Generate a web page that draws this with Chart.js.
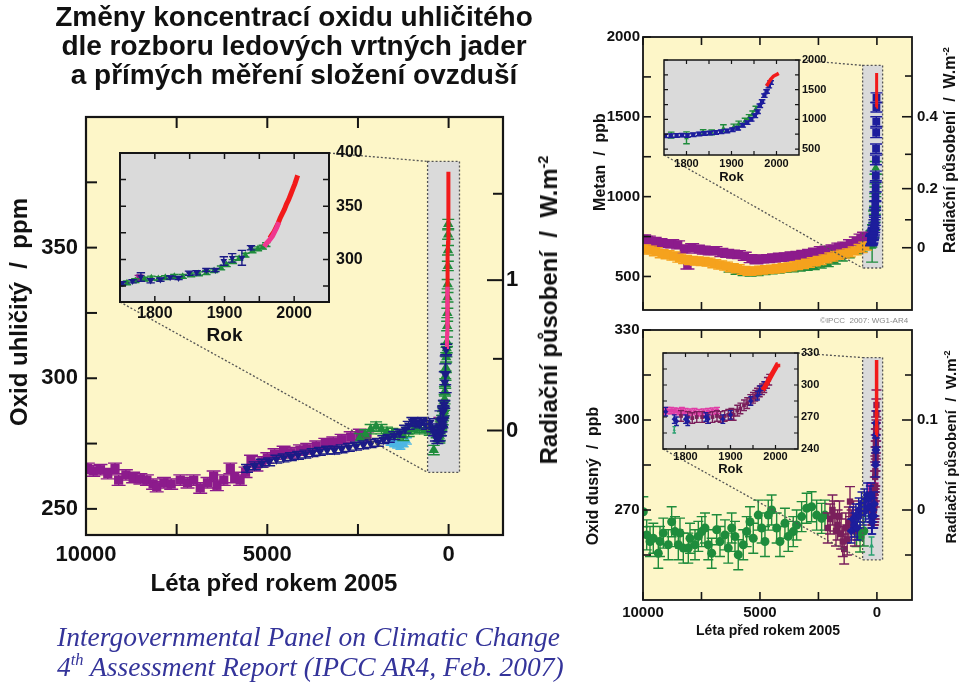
<!DOCTYPE html>
<html><head><meta charset="utf-8">
<script src="https://cdn.jsdelivr.net/npm/chart.js@4.4.1/dist/chart.umd.min.js"></script>
<style>
html,body{margin:0;padding:0;background:#fff;width:960px;height:683px;overflow:hidden;position:relative;}
canvas{position:absolute;left:0;top:0;}
.t{position:absolute;font-family:'Liberation Sans',Arial,Helvetica,sans-serif;font-weight:bold;color:#111;white-space:pre;line-height:1;z-index:20;}
.rot{transform:translate(-50%,-50%) rotate(-90deg);}
.ctr{transform:translate(-50%,-50%);}
sup{font-size:60%;vertical-align:0.65em;line-height:0;}
</style></head><body>
<canvas id="co2Main" width="960" height="683" style="z-index:1"></canvas>
<canvas id="ch4Main" width="960" height="683" style="z-index:2"></canvas>
<canvas id="n2oMain" width="960" height="683" style="z-index:3"></canvas>
<canvas id="co2Inset" width="960" height="683" style="z-index:4"></canvas>
<canvas id="ch4Inset" width="960" height="683" style="z-index:5"></canvas>
<canvas id="n2oInset" width="960" height="683" style="z-index:6"></canvas>

<div class="t" style="left:0;top:2px;width:588px;text-align:center;font-size:28px;line-height:29px;">Změny koncentrací oxidu uhličitého
dle rozboru ledových vrtných jader
a přímých měření složení ovzduší</div>
<div class="t rot" style="left:19px;top:312px;font-size:24px;">Oxid uhličitý  /  ppm</div>
<div class="t ctr" style="left:274px;top:583px;font-size:24px;">Léta před rokem 2005</div>
<div class="t rot" style="left:549px;top:310px;font-size:24px;">Radiační působení  /  W.m<sup>-2</sup></div>
<div class="t rot" style="left:600px;top:162px;font-size:16px;">Metan  /  ppb</div>
<div class="t rot" style="left:950px;top:150px;font-size:16px;">Radiační působení  /  W.m<sup>-2</sup></div>
<div class="t rot" style="left:593px;top:476px;font-size:16px;">Oxid dusný  /  ppb</div>
<div class="t rot" style="left:950px;top:447px;font-size:15px;">Radiační působení  /  W.m<sup>-2</sup></div>
<div class="t ctr" style="left:768px;top:630px;font-size:14px;">Léta před rokem 2005</div>
<div class="t" style="left:820px;top:317px;font-size:8px;font-weight:normal;color:#888;">©IPCC  2007: WG1-AR4</div>
<div class="t" style="left:57px;top:622px;font-family:'Liberation Serif','Times New Roman',serif;font-style:italic;font-weight:normal;font-size:27.5px;line-height:30px;color:#34349a;">Intergovernmental Panel on Climatic Change
4<sup>th</sup> Assessment Report (IPCC AR4, Feb. 2007)</div>

<script>
// ---------------- DATA ----------------
const REF_YEAR = 2005;                         // "years before 2005"
const mainXTicks = [10000, 7500, 5000, 2500, 0];
const mainXLabels = [10000, 5000, 0];
const insetYearTicks = [1800, 1850, 1900, 1950, 2000];
const insetYearLabels = [1800, 1900, 2000];

// CO2 (ppm)
const co2YTicks = [250, 275, 300, 325, 350, 375, 400];
const co2YLabels = [250, 300, 350];
const co2ForcingTicks = [0, 0.5, 1, 1.5];
const co2ForcingLabels = [0, 1];
const co2InsetYTicks = [275, 300, 325, 350, 375, 400];
const co2InsetYLabels = [300, 350, 400];

const co2DomeC_bp  = [9950,9800,9600,9400,9200,9100,8900,8700,8500,8320,8150,8050,7850,7650,7400,7200,7030,6850,6650,6480,6390,6200,6020,5900,5750,5600,5450,5300,5150,5000,4800,4550,4350,4100,3900,3650,3400,3180,2950,2700,2450,2250];
const co2DomeC_ppm = [265.5,264.5,265,263.5,265.5,261,263,262,261.5,261,259.5,258.5,260,259.5,261,260,261,258,260,262.5,259,261,265.5,262,261,264,268.5,266.5,268,269.5,271,272,271.5,272.5,273,274,275,275.5,276.5,277.5,278.5,277.5];
const co2DomeCRecent_year = [1778];
const co2DomeCRecent_ppm  = [283];

const co2Law_bp  = [5560,5350,5150,4950,4750,4550,4350,4150,3950,3750,3550,3350,3150,2950,2750,2550,2350,2150,1950,1800,1650,1500,1350,1200,1100,1000,900,800,700,600,520,450,400,350,310,280];
const co2Law_ppm = [265.5,266.5,267.5,268,269,269.5,270,270.5,271,271.5,272,272.5,272.5,273,273.5,274,274.5,275,275.5,276.5,277,278,279,280.5,282,283.5,283,282.5,283.5,282,283,281,279.5,277.5,276.5,277.5];
const co2LawRecent_year = [1753,1768,1780,1794,1808,1822,1834,1849,1860,1874,1887,1899,1911,1925,1938];
const co2LawRecent_ppm  = [277.5,279.5,283.5,280,281,283,282.5,287,287.5,290,290,298.5,301.5,301.5,311];
const co2LawRecent_err  = [1.5,1.5,4,2,1.5,1.5,1.5,2,2,1.5,1.5,4,4,7,2];

const co2Green_bp  = [2450,2300,2150,2000,1850,1700,1550,1400,1250,1100,950,800,650,520,410,330];
const co2Green_ppm = [277,278.5,280.5,281.5,280.5,279.5,279,278.5,278,279.5,280.5,281,280.5,280,272.5,279];
const co2GreenRecent_year = [1750,1760,1772,1785,1795,1805,1815,1828,1840,1852,1863,1874,1885,1895,1903,1912,1921,1930,1940,1948,1955,1960];
const co2GreenRecent_ppm  = [277,278,280,281.5,282.5,282,283,284,284,285.5,286.5,287.5,289.5,292,295,298,301,304,308,310,311.5,314];
const co2GreenFirn_year = [1965,1970,1975,1979,1984,1988,1992,1995];
const co2GreenFirn_ppm  = [320,325,331,336,343,349,355,359];

const co2Cyan_bp  = [1600,1500,1420,1330,1240,1150];
const co2Cyan_ppm = [275.5,275,274.5,274,275,276];

const co2Pink_year = [1957,1960,1963,1966,1969,1972,1975,1978];
const co2Pink_ppm  = [312,315,317,319.5,322,326,330,335];
const co2Red_year  = [1965,1968,1971,1974,1977,1980,1983,1986,1989,1992,1995,1998,2001,2004,2005];
const co2Red_ppm   = [320,323,326,330,334,339,343,347,352,356,361,366,371,377,379];

// CH4 (ppb)
const ch4YTicks = [500, 750, 1000, 1250, 1500, 1750, 2000];
const ch4YLabels = [500, 1000, 1500, 2000];
const ch4ForcingTicks = [0, 0.1, 0.2, 0.3, 0.4, 0.5];
const ch4ForcingLabels = [0, 0.2, 0.4];
const ch4InsetYTicks = [500, 750, 1000, 1250, 1500, 1750, 2000];
const ch4InsetYLabels = [500, 1000, 1500, 2000];

const ch4Purple_bp  = [9950,9750,9500,9250,9000,8750,8500,8250,8100,7900,7650,7400,7150,6900,6650,6400,6150,5900,5650,5400,5150,4900,4650,4400,4150,3900,3650,3400,3150,2900,2650,2400,2150,1900,1650,1400,1150,900,700,550];
const ch4Purple_ppb = [735,728,720,712,706,705,698,672,572,680,671,665,660,662,650,645,640,637,627,612,605,610,612,616,620,622,628,632,638,645,652,662,665,672,684,690,705,722,740,752];
const ch4Orange_bp  = [9950,9700,9450,9200,8950,8700,8450,8200,7950,7700,7450,7200,6950,6700,6450,6200,5950,5700,5450,5200,4950,4700,4450,4200,3950,3700,3450,3200,2950,2700,2450,2200,1950,1700,1450,1200,950,700,500];
const ch4Orange_ppb = [672,665,655,642,636,628,615,606,600,597,594,590,580,572,565,555,548,538,532,535,540,543,546,550,556,560,568,575,583,592,600,610,622,632,640,648,660,675,690];
const ch4Green_bp   = [6300,6000,5700,5400,5100,4800,4500,4200,3900,3600,3300,3000,2700,2400,2100,1800,1500,1200,900,650,450];
const ch4Green_ppb  = [545,532,524,520,524,530,535,540,545,548,552,556,562,570,580,596,615,635,660,672,690];
const ch4GreenRecent_year = [1766,1800,1837,1856,1882,1905,1916,1930,1939,1947,1954];
const ch4GreenRecent_ppb  = [735,690,785,780,850,880,930,980,1040,1100,1180];
const ch4GreenRecent_err  = [50,100,40,40,60,40,40,40,40,40,40];
const ch4Blue_year = [1752,1765,1778,1790,1802,1815,1828,1840,1852,1865,1877,1890,1902,1914,1925,1935,1944,1952,1958,1963,1968,1973,1978,1983,1987];
const ch4Blue_ppb  = [722,725,730,735,728,740,755,762,770,778,790,805,825,850,900,945,1000,1060,1130,1230,1300,1400,1470,1560,1620];
const ch4Red_year  = [1978,1981,1984,1987,1990,1993,1996,1999,2002,2005];
const ch4Red_ppb   = [1560,1600,1640,1675,1700,1725,1740,1750,1762,1775];

// N2O (ppb)
const n2oYTicks = [255, 270, 285, 300, 315, 330];
const n2oYLabels = [270, 300, 330];
const n2oForcingTicks = [-0.05, 0, 0.05, 0.1, 0.15];
const n2oForcingLabels = [0, 0.1];
const n2oInsetYTicks = [240, 255, 270, 285, 300, 315, 330];
const n2oInsetYLabels = [240, 270, 300, 330];

const n2oGreen_bp  = [9987,9842,9701,9560,9346,9274,9132,8919,8775,8632,8490,8419,8277,8063,7991,7777,7635,7491,7350,7209,7064,6850,6709,6495,6355,6209,6068,5928,5714,5568,5427,5286,5073,4927,4786,4645,4500,4286,4145,3932,3790,3577,3432,3218,3004,2791,2577,2363,2222,870,720,560];
const n2oGreen_ppb = [269.4,261.7,259.5,260.6,255.6,259.5,262.3,258.4,266.1,262.8,258.4,262.3,257.3,257.3,260.6,258.4,261.2,262.8,264,258.4,255.6,263.4,259.5,261.7,257.3,264,261.2,255.1,258.4,262.8,266.1,260.6,268.3,264,259.5,268.3,270,264,259.5,265.6,261.2,262.8,265,267.8,270.6,271.1,268.3,267.2,268.3,262.8,261,263];
const n2oMaroon_bp  = [2100,2000,1900,1830,1750,1680,1600,1530,1460,1400,1330,1270,1200,1150,1080,1000,940];
const n2oMaroon_ppb = [264,267,270,268,263,265,268,262,259.5,257,264,260,266,272.8,265,268,263];
const n2oMaroonRecent_year = [1790,1805,1815,1825,1837,1850,1860,1870,1878,1887,1895,1902,1907,1915,1922,1930,1937,1944,1950,1955,1959,1965,1970,1975,1981,1986];
const n2oMaroonRecent_ppb  = [271,270,269,270,270,269,270,271,270,271,272,273,272,276,278,281,283,286,288,290,292,294,296,298,302,305];
const n2oBlue_bp  = [1100,1030,960,900,840,780,720,660,600,540,480,420,360,300];
const n2oBlue_ppb = [263,267,265,268,264,270,268,272,269,273,270,275,271,274];
const n2oBlueRecent_year = [1756,1775,1780,1800,1805,1845,1850,1883,1900,1945,1960,1965,1975];
const n2oBlueRecent_ppb  = [275,268,266,268,266,270,268,268,272,285,290,295,299];
const n2oPink_year = [1752,1760,1768,1776,1784,1792,1800,1810,1820,1830,1840,1850,1860,1870];
const n2oPink_ppb  = [275,276,276,275.5,275,276,275,274.5,275,274,274.5,275,275.5,276];
const n2oGreenRecent_year = [1775];
const n2oGreenRecent_ppb  = [258];
const n2oRed_year = [1972,1976,1980,1984,1988,1992,1996,2000,2004,2005];
const n2oRed_ppb  = [295,298,301,304,307,310,313,316,319,320];

// ---------------- HELPERS ----------------
Chart.defaults.font.family = "'Liberation Sans', Arial, Helvetica, sans-serif";
Chart.defaults.color = '#111';
const BG_MAIN = '#fdf6c8', BG_INSET = '#dadada', INK = '#151515';
const C = { purple:'#8c1b8c', navy:'#1b1b86', green:'#1f8c3c', cyan:'#4cb6e4', pink:'#f0378f', red:'#f21a1a',
            orange:'#f5a21d', blue:'#1d1d9c', maroon:'#7a1f5c', magenta:'#e03ca6' };
const charts = {};
const bpOf = years => years.map(y => REF_YEAR - y);
const xy = (xs, ys) => xs.map((x, i) => ({ x, y: ys[i] }));
const co2FromForcing = f => 280 * Math.exp(f / 5.35);
const ch4FromForcing = f => Math.pow(Math.sqrt(680) + f / 0.0316, 2);
const n2oFromForcing = f => 270 + 300 * f;

function markers(label, xs, ys, err, color, shape, r, cap, rot) {
  return { label, data: xy(xs, ys), err, capW: cap, pointStyle: shape, pointRadius: r, pointRotation: rot || 0,
    backgroundColor: color, borderColor: color, borderWidth: 0, showLine: false, clip: 0 };
}
function trace(label, xs, ys, color, w) {
  return { label, data: xy(xs, ys), showLine: true, pointRadius: 0, borderColor: color, backgroundColor: color,
    borderWidth: w, clip: 0, tension: 0 };
}

const errorBars = {
  id: 'errorBars',
  beforeDatasetDraw(chart, args) {
    const ds = chart.data.datasets[args.index];
    if (ds.err == null) return;
    const meta = args.meta, ys = chart.scales[meta.yAxisID], a = chart.chartArea, ctx = chart.ctx;
    ctx.save(); ctx.beginPath(); ctx.rect(a.left, a.top, a.right - a.left, a.bottom - a.top); ctx.clip();
    ctx.strokeStyle = ds.borderColor; ctx.lineWidth = 1.4;
    ds.data.forEach((d, i) => {
      const e = Array.isArray(ds.err) ? ds.err[i] : ds.err, el = meta.data[i];
      if (!el) return;
      const x = el.x, y1 = ys.getPixelForValue(d.y + e), y2 = ys.getPixelForValue(d.y - e), c = ds.capW;
      ctx.beginPath(); ctx.moveTo(x, y1); ctx.lineTo(x, y2);
      ctx.moveTo(x - c, y1); ctx.lineTo(x + c, y1); ctx.moveTo(x - c, y2); ctx.lineTo(x + c, y2);
      ctx.stroke();
    });
    ctx.restore();
  }
};

function framePlugin(o) {
  return {
    id: 'frame',
    beforeDraw(chart) {
      const a = chart.chartArea, ctx = chart.ctx;
      ctx.save(); ctx.fillStyle = o.bg; ctx.fillRect(a.left, a.top, a.right - a.left, a.bottom - a.top); ctx.restore();
    },
    afterDraw(chart) {
      const a = chart.chartArea, ctx = chart.ctx;
      ctx.save(); ctx.strokeStyle = INK; ctx.lineWidth = o.tickWidth;
      for (const m of o.marks) {
        const s = chart.scales[m.axis];
        s.ticks.forEach(t => {
          const p = s.getPixelForValue(t.value);
          const L = (t.label !== '' && t.label != null) ? m.len : m.minor;
          ctx.beginPath();
          for (const side of m.sides) {
            if (side === 'bottom') { ctx.moveTo(p, a.bottom); ctx.lineTo(p, a.bottom - L); }
            if (side === 'top')    { ctx.moveTo(p, a.top);    ctx.lineTo(p, a.top + L); }
            if (side === 'left')   { ctx.moveTo(a.left, p);   ctx.lineTo(a.left + L, p); }
            if (side === 'right')  { ctx.moveTo(a.right, p);  ctx.lineTo(a.right - L, p); }
          }
          ctx.stroke();
        });
      }
      ctx.lineWidth = o.lineWidth;
      ctx.strokeRect(a.left, a.top, a.right - a.left, a.bottom - a.top);
      ctx.restore();
    }
  };
}

function zoomLink(box, insetKey) {
  const px = chart => {
    const xs = chart.scales.x, ys = chart.scales.y;
    const xa = xs.getPixelForValue(box.x0), xb = xs.getPixelForValue(box.x1);
    const ya = ys.getPixelForValue(box.y0), yb = ys.getPixelForValue(box.y1);
    return { l: Math.min(xa, xb), r: Math.max(xa, xb), t: Math.min(ya, yb), b: Math.max(ya, yb) };
  };
  return {
    id: 'zoomLink',
    beforeDatasetsDraw(chart) {
      const p = px(chart), ctx = chart.ctx;
      ctx.save(); ctx.fillStyle = BG_INSET; ctx.fillRect(p.l, p.t, p.r - p.l, p.b - p.t); ctx.restore();
    },
    afterDatasetsDraw(chart) {
      const p = px(chart), ctx = chart.ctx, ia = charts[insetKey].chartArea;
      ctx.save(); ctx.strokeStyle = '#555'; ctx.lineWidth = 1.3; ctx.setLineDash([2, 2]);
      ctx.strokeRect(p.l, p.t, p.r - p.l, p.b - p.t);
      ctx.beginPath();
      ctx.moveTo(ia.right, ia.top); ctx.lineTo(p.l, p.t);
      ctx.moveTo(ia.left, ia.bottom); ctx.lineTo(p.l, p.b);
      ctx.stroke(); ctx.restore();
    }
  };
}

const bold = s => ({ size: s, weight: 'bold' });
function valueAxis(min, max, position, tickVals, labelFn, fontSize, pad, width) {
  return { type: 'linear', min, max, position,
    afterBuildTicks: s => { s.ticks = tickVals.map(v => ({ value: v })); },
    afterFit: s => { s.width = width; },
    grid: { display: false, drawTicks: false }, border: { display: false },
    ticks: { autoSkip: false, padding: pad, font: bold(fontSize), color: '#111', callback: labelFn } };
}
function mainYearAxis(fontSize, pad, height, showLabels) {
  return { type: 'linear', min: -1500, max: 10000, reverse: true, position: 'bottom',
    afterBuildTicks: s => { s.ticks = mainXTicks.map(v => ({ value: v })); },
    afterFit: s => { s.height = height; },
    grid: { display: false, drawTicks: false }, border: { display: false },
    ticks: { autoSkip: false, maxRotation: 0, padding: pad, font: bold(fontSize), color: '#111',
      callback: v => (showLabels && mainXLabels.includes(v)) ? String(v) : '' } };
}
function insetYearAxis(fontSize, pad, height, titleSize) {
  return { type: 'linear', min: REF_YEAR - 2050, max: REF_YEAR - 1750, reverse: true, position: 'bottom',
    afterBuildTicks: s => { s.ticks = bpOf(insetYearTicks).map(v => ({ value: v })); },
    afterFit: s => { s.height = height; },
    grid: { display: false, drawTicks: false }, border: { display: false },
    title: { display: true, text: 'Rok', font: bold(titleSize), color: '#111', padding: { top: 0, bottom: 0 } },
    ticks: { autoSkip: false, maxRotation: 0, padding: pad, font: bold(fontSize), color: '#111',
      callback: v => insetYearLabels.includes(REF_YEAR - v) ? String(REF_YEAR - v) : '' } };
}
const listLabel = list => v => list.includes(v) ? String(v) : '';
const forcingLabel = (ticks, labels) => (v, i) => labels.includes(ticks[i]) ? String(ticks[i]) : '';

// datasets are listed bottom-to-top; Chart.js paints the first dataset last, so reverse them
function make(id, datasets, scales, padding, plugins) {
  charts[id] = new Chart(document.getElementById(id), {
    type: 'scatter',
    data: { datasets: datasets.slice().reverse() },
    options: { responsive: false, animation: false, events: [], layout: { padding },
      plugins: { legend: { display: false }, tooltip: { enabled: false } }, scales },
    plugins: [errorBars, ...plugins]
  });
}

// ---------------- CO2 ----------------
function co2Sets(inset) {
  const k = inset ? 0.7 : 1;
  const sets = [
    markers('Dome C', inset ? bpOf(co2DomeCRecent_year) : co2DomeC_bp.concat(bpOf(co2DomeCRecent_year)),
      inset ? co2DomeCRecent_ppm : co2DomeC_ppm.concat(co2DomeCRecent_ppm), 2, C.purple, 'rect', 6.5 * k, 7 * k),
    markers('Cyan', co2Cyan_bp, co2Cyan_ppm, 1.2, C.cyan, 'triangle', 5 * k, 5 * k),
    markers('Green', inset ? bpOf(co2GreenRecent_year) : co2Green_bp.concat(bpOf(co2GreenRecent_year)),
      inset ? co2GreenRecent_ppm : co2Green_ppm.concat(co2GreenRecent_ppm), 1.8, C.green, 'triangle', 6 * k, 6 * k),
    markers('Law Dome', inset ? bpOf(co2LawRecent_year) : co2Law_bp.concat(bpOf(co2LawRecent_year)),
      inset ? co2LawRecent_ppm : co2Law_ppm.concat(co2LawRecent_ppm),
      inset ? co2LawRecent_err : co2Law_ppm.map(() => 1.5).concat(co2LawRecent_err), C.navy, 'triangle', 5.5 * k, 6 * k, 180),
    trace('Red', bpOf(co2Red_year), co2Red_ppm, C.red, inset ? 5 : 4),
    trace('Pink', bpOf(co2Pink_year), co2Pink_ppm, C.pink, inset ? 5 : 4)
  ];
  if (!inset) sets.splice(3, 0, markers('Firn', bpOf(co2GreenFirn_year), co2GreenFirn_ppm, 1.8, C.green, 'triangle', 6, 6));
  return sets;
}
make('co2Inset', co2Sets(true), {
  x: insetYearAxis(16, 2, 45, 19),
  y: valueAxis(260, 400, 'right', co2InsetYTicks, listLabel(co2InsetYLabels), 16, 7, 40)
}, { left: 120, top: 153, right: 960 - 329 - 40, bottom: 683 - 302 - 45 },
[framePlugin({ bg: BG_INSET, lineWidth: 2, tickWidth: 1.5, marks: [
  { axis: 'x', sides: ['top', 'bottom'], len: 6, minor: 6 },
  { axis: 'y', sides: ['left', 'right'], len: 6, minor: 6 }] })]);

make('co2Main', co2Sets(false), {
  x: mainYearAxis(22, 7, 60, true),
  y: valueAxis(240, 400, 'left', co2YTicks, listLabel(co2YLabels), 22, 8, 80),
  y2: valueAxis(240, 400, 'right', co2ForcingTicks.map(co2FromForcing), forcingLabel(co2ForcingTicks, co2ForcingLabels), 22, 3, 30)
}, { left: 86 - 80, top: 117, right: 960 - 503 - 30, bottom: 683 - 535 - 60 },
[framePlugin({ bg: BG_MAIN, lineWidth: 2.2, tickWidth: 2, marks: [
  { axis: 'x', sides: ['top', 'bottom'], len: 11, minor: 11 },
  { axis: 'y', sides: ['left'], len: 11, minor: 11 },
  { axis: 'y2', sides: ['right'], len: 16, minor: 10 }] }),
 zoomLink({ x0: 580, x1: -300, y0: 264, y1: 383 }, 'co2Inset')]);

// ---------------- CH4 ----------------
function ch4Sets(inset) {
  const k = inset ? 0.55 : 1;
  const long = !inset;
  return [
    markers('Green', long ? ch4Green_bp.concat(bpOf(ch4GreenRecent_year)) : bpOf(ch4GreenRecent_year),
      long ? ch4Green_ppb.concat(ch4GreenRecent_ppb) : ch4GreenRecent_ppb,
      long ? ch4Green_ppb.map(() => 18).concat(ch4GreenRecent_err) : ch4GreenRecent_err, C.green, 'triangle', 5 * k, 6 * k),
    markers('Purple', long ? ch4Purple_bp : [], long ? ch4Purple_ppb : [], 25, C.purple, 'rect', 6, 7),
    markers('Orange', long ? ch4Orange_bp : [], long ? ch4Orange_ppb : [], 25, C.orange, 'rect', 6, 7),
    markers('Blue', bpOf(ch4Blue_year), ch4Blue_ppb, 30, C.blue, 'rect', 5.5 * k, 6 * k),
    trace('Red', bpOf(ch4Red_year), ch4Red_ppb, C.red, inset ? 3.5 : 3)
  ];
}
make('ch4Inset', ch4Sets(true), {
  x: insetYearAxis(11, 2, 30, 13),
  y: valueAxis(400, 2000, 'right', ch4InsetYTicks, listLabel(ch4InsetYLabels), 11, 3, 35)
}, { left: 664, top: 60, right: 960 - 799 - 35, bottom: 683 - 155 - 30 },
[framePlugin({ bg: BG_INSET, lineWidth: 1.5, tickWidth: 1.2, marks: [
  { axis: 'x', sides: ['top', 'bottom'], len: 4, minor: 4 },
  { axis: 'y', sides: ['left', 'right'], len: 4, minor: 4 }] })]);

make('ch4Main', ch4Sets(false), {
  x: mainYearAxis(15, 3, 5, false),
  y: valueAxis(290, 2000, 'left', ch4YTicks, listLabel(ch4YLabels), 15, 3, 50),
  y2: valueAxis(290, 2000, 'right', ch4ForcingTicks.map(ch4FromForcing), forcingLabel(ch4ForcingTicks, ch4ForcingLabels), 15, 5, 30)
}, { left: 643 - 50, top: 37, right: 960 - 912 - 30, bottom: 683 - 310 - 5 },
[framePlugin({ bg: BG_MAIN, lineWidth: 1.8, tickWidth: 1.6, marks: [
  { axis: 'x', sides: ['top', 'bottom'], len: 8, minor: 8 },
  { axis: 'y', sides: ['left'], len: 8, minor: 8 },
  { axis: 'y2', sides: ['right'], len: 10, minor: 7 }] }),
 zoomLink({ x0: 611, x1: -244, y0: 553, y1: 1822 }, 'ch4Inset')]);

// ---------------- N2O ----------------
function n2oSets(inset) {
  const k = inset ? 0.6 : 1;
  const long = !inset;
  return [
    markers('Green', long ? n2oGreen_bp : [], long ? n2oGreen_ppb : [], 5, C.green, 'circle', 4.5, 5),
    markers('Pink', bpOf(n2oPink_year), n2oPink_ppb, 3, C.magenta, 'rect', 5 * k, 5 * k),
    markers('Maroon', long ? n2oMaroon_bp.concat(bpOf(n2oMaroonRecent_year)) : bpOf(n2oMaroonRecent_year),
      long ? n2oMaroon_ppb.concat(n2oMaroonRecent_ppb) : n2oMaroonRecent_ppb, 5, C.maroon, 'rect', 4.5 * k, 5 * k),
    markers('Blue', long ? n2oBlue_bp.concat(bpOf(n2oBlueRecent_year)) : bpOf(n2oBlueRecent_year),
      long ? n2oBlue_ppb.concat(n2oBlueRecent_ppb) : n2oBlueRecent_ppb, 4, C.blue, 'rectRot', 4.5 * k, 4 * k),
    markers('Teal', bpOf(n2oGreenRecent_year), n2oGreenRecent_ppb, 3, '#2aa070', 'triangle', 3 * k, 3 * k),
    trace('Red', bpOf(n2oRed_year), n2oRed_ppb, C.red, inset ? 5 : 3.5)
  ];
}
make('n2oInset', n2oSets(true), {
  x: insetYearAxis(11, 1, 28, 13),
  y: valueAxis(240, 330, 'right', n2oInsetYTicks, listLabel(n2oInsetYLabels), 11, 3, 35)
}, { left: 663, top: 353, right: 960 - 798 - 35, bottom: 683 - 449 - 28 },
[framePlugin({ bg: BG_INSET, lineWidth: 1.5, tickWidth: 1.2, marks: [
  { axis: 'x', sides: ['top', 'bottom'], len: 4, minor: 4 },
  { axis: 'y', sides: ['left', 'right'], len: 4, minor: 4 }] })]);

make('n2oMain', n2oSets(false), {
  x: mainYearAxis(15, 4, 25, true),
  y: valueAxis(240, 330, 'left', n2oYTicks, listLabel(n2oYLabels), 15, 3.5, 50),
  y2: valueAxis(240, 330, 'right', n2oForcingTicks.map(n2oFromForcing), forcingLabel(n2oForcingTicks, n2oForcingLabels), 15, 5, 30)
}, { left: 643 - 50, top: 330, right: 960 - 912 - 30, bottom: 683 - 600 - 25 },
[framePlugin({ bg: BG_MAIN, lineWidth: 1.8, tickWidth: 1.6, marks: [
  { axis: 'x', sides: ['top', 'bottom'], len: 8, minor: 8 },
  { axis: 'y', sides: ['left'], len: 8, minor: 8 },
  { axis: 'y2', sides: ['right'], len: 10, minor: 7 }] }),
 zoomLink({ x0: 611, x1: -244, y0: 253.4, y1: 320.8 }, 'n2oInset')]);
</script>
</body></html>
